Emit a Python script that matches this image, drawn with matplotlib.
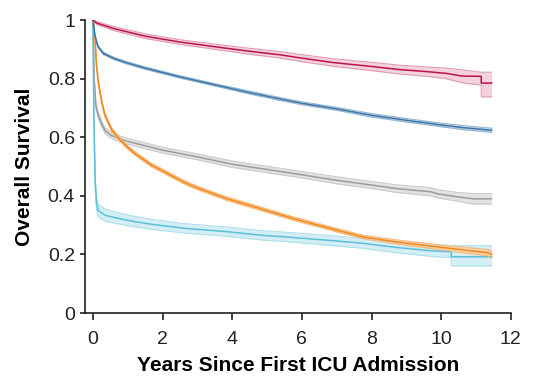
import matplotlib.pyplot as plt
from matplotlib.ticker import FuncFormatter

# values (Kaplan-Meier style curves with CI bands)
red_x = [0, 0.1, 0.6, 1.5, 2.5, 3.5, 4.4, 5.4, 6, 6.9, 7.9, 8.8, 9.6, 10.15, 10.6, 11.15, 11.15, 11.45]
red_y = [1.0, 0.99, 0.971, 0.945, 0.925, 0.909, 0.895, 0.881, 0.870, 0.855, 0.843, 0.831, 0.824, 0.818, 0.809, 0.808, 0.785, 0.785]
red_lo = [1.0, 0.985, 0.964, 0.937, 0.917, 0.900, 0.885, 0.870, 0.858, 0.842, 0.829, 0.816, 0.808, 0.800, 0.786, 0.778, 0.738, 0.738]
red_hi = [1.0, 0.995, 0.978, 0.953, 0.933, 0.918, 0.905, 0.892, 0.882, 0.868, 0.857, 0.846, 0.840, 0.836, 0.830, 0.822, 0.822, 0.822]

blue_x = [0, 0.05, 0.14, 0.3, 0.6, 1.0, 1.5, 2.5, 3.5, 4.4, 5.4, 6, 7, 8, 9, 10, 10.7, 11.45]
blue_y = [1.0, 0.95, 0.91, 0.886, 0.869, 0.853, 0.836, 0.806, 0.779, 0.755, 0.730, 0.716, 0.697, 0.675, 0.658, 0.642, 0.632, 0.624]
blue_lo = [1.0, 0.947, 0.906, 0.882, 0.865, 0.849, 0.832, 0.802, 0.775, 0.750, 0.725, 0.711, 0.692, 0.669, 0.652, 0.636, 0.625, 0.617]
blue_hi = [1.0, 0.953, 0.914, 0.890, 0.873, 0.857, 0.840, 0.810, 0.783, 0.760, 0.735, 0.721, 0.702, 0.681, 0.664, 0.648, 0.639, 0.631]

gray_x = [0, 0.03, 0.08, 0.15, 0.25, 0.35, 0.5, 0.75, 1.0, 1.5, 2, 2.65, 3, 4, 5, 6, 7, 8, 8.7, 9.7, 9.9, 10.45, 10.9, 11.45]
gray_y = [1.0, 0.80, 0.71, 0.675, 0.645, 0.622, 0.608, 0.595, 0.586, 0.571, 0.556, 0.541, 0.533, 0.508, 0.490, 0.472, 0.453, 0.437, 0.425, 0.414, 0.407, 0.397, 0.390, 0.390]
gray_lo = [1.0, 0.79, 0.70, 0.665, 0.635, 0.612, 0.598, 0.585, 0.576, 0.561, 0.546, 0.531, 0.523, 0.497, 0.479, 0.461, 0.441, 0.425, 0.412, 0.400, 0.393, 0.382, 0.372, 0.372]
gray_hi = [1.0, 0.81, 0.72, 0.685, 0.655, 0.632, 0.618, 0.605, 0.596, 0.581, 0.566, 0.551, 0.543, 0.519, 0.501, 0.483, 0.465, 0.449, 0.438, 0.428, 0.421, 0.412, 0.408, 0.408]

orange_x = [0, 0.03, 0.06, 0.1, 0.15, 0.25, 0.34, 0.54, 0.75, 1.0, 1.2, 1.68, 2, 2.64, 3, 3.83, 4.79, 5.74, 7, 7.75, 8.7, 9.67, 10.24, 10.81, 11.34, 11.45]
orange_y = [1.0, 0.97, 0.926, 0.846, 0.789, 0.721, 0.676, 0.625, 0.595, 0.565, 0.545, 0.505, 0.485, 0.445, 0.427, 0.391, 0.357, 0.323, 0.283, 0.260, 0.243, 0.229, 0.221, 0.213, 0.206, 0.200]
orange_lo = [1.0, 0.965, 0.920, 0.840, 0.783, 0.715, 0.670, 0.619, 0.589, 0.559, 0.539, 0.499, 0.479, 0.439, 0.421, 0.385, 0.351, 0.317, 0.277, 0.254, 0.236, 0.221, 0.212, 0.203, 0.195, 0.189]
orange_hi = [1.0, 0.975, 0.932, 0.852, 0.795, 0.727, 0.682, 0.631, 0.601, 0.571, 0.551, 0.511, 0.491, 0.451, 0.433, 0.397, 0.363, 0.329, 0.289, 0.266, 0.250, 0.237, 0.230, 0.223, 0.217, 0.211]

cyan_x = [0, 0.02, 0.06, 0.1, 0.15, 0.34, 0.73, 1.2, 1.68, 2.64, 3.83, 4.79, 5.74, 7, 7.75, 8.71, 9.67, 10.29, 10.29, 11.45]
cyan_y = [1.0, 0.70, 0.45, 0.374, 0.350, 0.334, 0.323, 0.312, 0.303, 0.289, 0.278, 0.266, 0.258, 0.246, 0.238, 0.224, 0.213, 0.209, 0.192, 0.192]
cyan_lo = [1.0, 0.68, 0.43, 0.352, 0.328, 0.313, 0.304, 0.294, 0.286, 0.273, 0.262, 0.250, 0.242, 0.229, 0.221, 0.206, 0.194, 0.189, 0.161, 0.161]
cyan_hi = [1.0, 0.72, 0.47, 0.396, 0.372, 0.355, 0.342, 0.330, 0.320, 0.305, 0.294, 0.282, 0.274, 0.263, 0.255, 0.242, 0.232, 0.230, 0.230, 0.230]

x_ticks = [0, 2, 4, 6, 8, 10, 12]
y_ticks = [0, 0.2, 0.4, 0.6, 0.8, 1]

# line colour, band fill, band edge
series = [
    (gray_x, gray_y, gray_lo, gray_hi, '#9c9c9c', '#e2e2e2', '#cbcbcb'),
    (cyan_x, cyan_y, cyan_lo, cyan_hi, '#5bc0da', '#d3eef5', '#ade0ec'),
    (orange_x, orange_y, orange_lo, orange_hi, '#f3871a', '#fbd3ab', '#f8b77a'),
    (blue_x, blue_y, blue_lo, blue_hi, '#3e78a8', '#c4d6e6', '#94b5d2'),
    (red_x, red_y, red_lo, red_hi, '#c0124a', '#f3d2db', '#e29cb0'),
]

plt.rcParams['font.family'] = ['Liberation Sans', 'DejaVu Sans']

fig = plt.figure(figsize=(5.36, 3.79), dpi=100)
ax = fig.add_axes([0.158, 0.174, 0.795, 0.773])

for x, y, lo, hi, line_c, fill_c, edge_c in series:
    ax.fill_between(x, lo, hi, color=fill_c, linewidth=0)
    ax.plot(x, lo, color=edge_c, linewidth=0.8)
    ax.plot(x, hi, color=edge_c, linewidth=0.8)
    ax.plot(x, y, color=line_c, linewidth=1.1)

ax.set_xlim(-0.24, 12)
ax.set_ylim(0, 1)
ax.set_xticks(x_ticks)
ax.set_yticks(y_ticks)
ax.yaxis.set_major_formatter(FuncFormatter(lambda v, p: f'{v:g}'))

for s in ['top', 'right']:
    ax.spines[s].set_visible(False)
for s in ['left', 'bottom']:
    ax.spines[s].set_linewidth(1.2)
    ax.spines[s].set_color('#222222')
ax.tick_params(direction='out', width=1.2, labelsize=14, color='#222222', labelcolor='#222222')
ax.tick_params(axis='x', length=5, pad=8)
ax.tick_params(axis='y', length=3.5, pad=3.5)

ax.set_xlabel('Years Since First ICU Admission', fontsize=15, fontweight='bold', labelpad=6)
ax.set_ylabel('Overall Survival', fontsize=15, fontweight='bold', labelpad=10)

fig.savefig('out.png', dpi=100)
